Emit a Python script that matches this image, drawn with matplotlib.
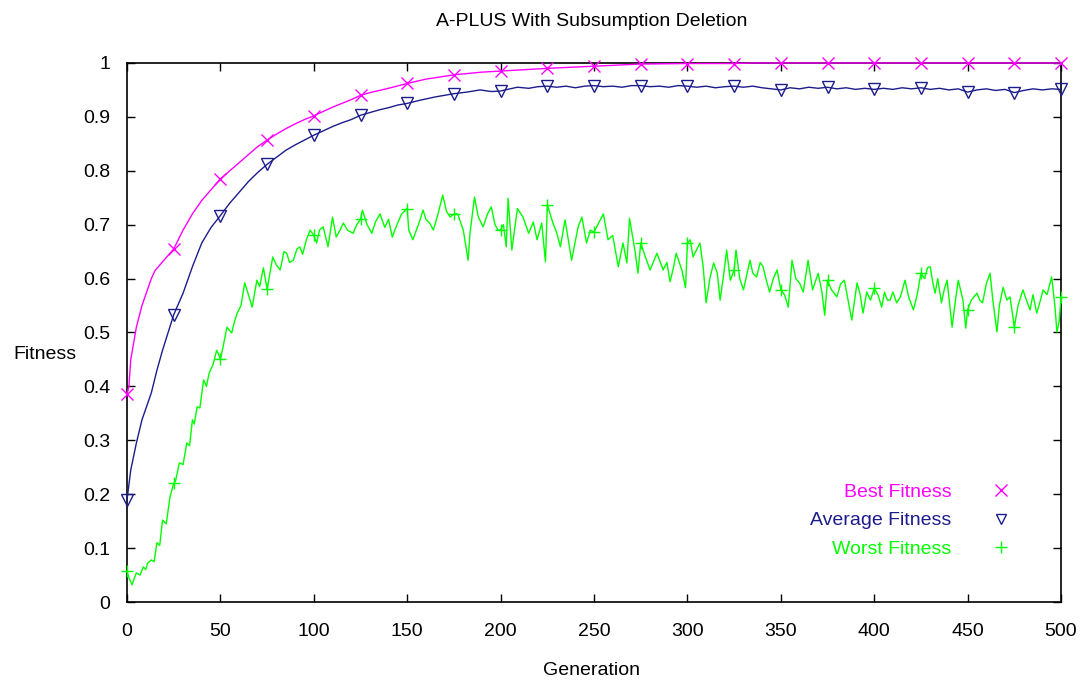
import matplotlib
matplotlib.use("Agg")
import matplotlib.pyplot as plt
from matplotlib.lines import Line2D
import numpy as np

plt.rcParams['font.family'] = ['Liberation Sans', 'DejaVu Sans']

title = "A-PLUS With Subsumption Deletion"
xlabel = "Generation"
ylabel = "Fitness"
series_names = ["Best Fitness", "Average Fitness", "Worst Fitness"]

best_gen = [0, 1, 2, 3, 5, 8, 10, 13, 15, 20, 25, 30, 35, 40, 45, 50, 55, 60, 65, 70,
            75, 80, 85, 90, 95, 100, 110, 120, 125, 130, 140, 150, 160, 175, 190, 200,
            225, 250, 275, 300, 325, 335, 350, 375, 400, 425, 450, 475, 500]
best_val = [0.385, 0.40, 0.45, 0.47, 0.51, 0.55, 0.57, 0.60, 0.615, 0.635, 0.655, 0.69,
            0.72, 0.745, 0.765, 0.785, 0.80, 0.815, 0.83, 0.845, 0.857, 0.868, 0.878,
            0.887, 0.895, 0.902, 0.918, 0.932, 0.940, 0.945, 0.953, 0.962, 0.970, 0.978,
            0.983, 0.985, 0.990, 0.994, 0.998, 0.999, 0.999, 1.0, 1.0, 1.0, 1.0, 1.0,
            1.0, 1.0, 1.0]

avg_gen = [0, 2, 5, 8, 13, 16, 19, 25, 30, 35, 40, 45, 50, 55, 60, 65, 70, 75, 80, 85,
           90, 95, 100, 105, 110, 115, 120, 125, 130, 135, 140, 145, 150, 157, 165, 170,
           175, 182, 189, 195, 200, 205, 209, 215, 220, 225, 230, 235, 240, 245, 250,
           255, 260, 265, 270, 275, 280, 285, 290, 295, 300, 305, 310, 315, 320, 325,
           330, 335, 340, 345, 350, 355, 360, 365, 370, 375, 380, 385, 390, 395, 400,
           405, 410, 415, 420, 425, 430, 435, 440, 445, 450, 455, 460, 465, 470, 475,
           480, 485, 490, 495, 500]
avg_val = [0.19, 0.245, 0.295, 0.338, 0.388, 0.43, 0.467, 0.533, 0.573, 0.622, 0.666,
           0.695, 0.717, 0.74, 0.76, 0.78, 0.797, 0.812, 0.825, 0.838, 0.848, 0.857,
           0.866, 0.874, 0.882, 0.889, 0.895, 0.903, 0.908, 0.913, 0.917, 0.922, 0.925,
           0.931, 0.937, 0.940, 0.943, 0.946, 0.950, 0.947, 0.948, 0.952, 0.955, 0.953,
           0.956, 0.957, 0.955, 0.957, 0.954, 0.957, 0.958, 0.956, 0.957, 0.955, 0.958,
           0.958, 0.956, 0.957, 0.955, 0.958, 0.957, 0.955, 0.957, 0.954, 0.956, 0.957,
           0.955, 0.957, 0.954, 0.952, 0.950, 0.954, 0.952, 0.955, 0.953, 0.955, 0.952,
           0.954, 0.951, 0.953, 0.951, 0.953, 0.951, 0.954, 0.952, 0.954, 0.951, 0.953,
           0.950, 0.952, 0.946, 0.950, 0.952, 0.949, 0.951, 0.945, 0.949, 0.952, 0.950,
           0.952, 0.951]

worst_gen = [0, 1, 2.7, 4, 5, 7, 8.7, 10, 11, 13, 14.5, 16, 17.5, 19, 21, 23, 25, 26, 28,
             30, 32, 33.5, 35, 36, 37.5, 39, 41, 42.5, 44, 46, 48, 49, 50, 51.5, 53.5, 56,
             57.5, 59, 61, 63, 65, 67, 69.5, 71, 73, 75, 76, 78, 80, 82, 84, 85.5, 87, 89,
             91, 92.5, 94, 96, 98, 100, 101.5, 103, 105, 107.6, 110, 112, 114, 115.8, 118,
             121, 123, 125, 126, 128.5, 131, 133, 135.4, 138, 140, 142, 144.5, 147, 150,
             150.8, 153, 156, 158.5, 160, 162, 164, 166.5, 169, 171, 173, 175, 177, 180,
             182.6, 183.6, 186, 188, 190.6, 193, 195, 197, 198.6, 200, 201.5, 203, 204,
             206, 209, 212, 215, 217.5, 219.5, 222, 224, 225, 228, 230, 232, 234.5, 238,
             241.5, 243.5, 246, 248, 250, 252, 255, 257.5, 260, 263, 265.5, 267.6, 269,
             272, 273.5, 275, 277.5, 280, 283.7, 287, 289, 290.7, 292.5, 294, 297, 299,
             300, 301.5, 303, 306.7, 308.5, 310, 312, 314, 316, 317.5, 319.5, 321, 323,
             325, 326, 328, 330, 332, 333.5, 335, 337, 339, 340.5, 342, 344, 346, 348,
             350, 352, 354, 356, 358, 360, 362, 364.6, 367, 370, 372, 373.5, 375, 377,
             380, 382, 384, 386, 388, 390.8, 392.5, 394, 396, 398, 400, 402, 404, 405.5,
             407, 408.5, 410, 412, 414, 416.5, 418.5, 421, 423, 425, 427, 428.5, 430,
             431.5, 432.6, 434, 436, 437.5, 439, 441.7, 443.5, 445, 447.5, 449, 450, 452,
             455, 456.5, 458, 460, 462, 463.5, 465.7, 467, 469, 471, 472.7, 475, 477,
             479.6, 481.5, 483.4, 485, 487, 489, 490.4, 492.5, 495, 496.8, 497.8, 499, 500]
worst_val = [0.057, 0.045, 0.032, 0.045, 0.054, 0.05, 0.065, 0.06, 0.072, 0.078, 0.075,
             0.11, 0.105, 0.152, 0.145, 0.195, 0.22, 0.225, 0.258, 0.255, 0.295, 0.29,
             0.338, 0.33, 0.362, 0.36, 0.412, 0.40, 0.425, 0.44, 0.467, 0.46, 0.45, 0.475,
             0.51, 0.499, 0.52, 0.536, 0.55, 0.592, 0.57, 0.547, 0.597, 0.585, 0.62, 0.58,
             0.60, 0.64, 0.625, 0.616, 0.65, 0.647, 0.63, 0.634, 0.655, 0.659, 0.645,
             0.672, 0.69, 0.68, 0.666, 0.69, 0.696, 0.659, 0.714, 0.677, 0.69, 0.703,
             0.69, 0.684, 0.70, 0.71, 0.727, 0.70, 0.684, 0.705, 0.72, 0.695, 0.71,
             0.677, 0.70, 0.72, 0.73, 0.69, 0.672, 0.70, 0.727, 0.71, 0.703, 0.69, 0.72,
             0.755, 0.725, 0.714, 0.72, 0.72, 0.69, 0.634, 0.684, 0.751, 0.715, 0.696,
             0.72, 0.733, 0.70, 0.69, 0.69, 0.70, 0.659, 0.749, 0.653, 0.73, 0.714,
             0.684, 0.705, 0.672, 0.703, 0.631, 0.737, 0.703, 0.685, 0.659, 0.709, 0.634,
             0.696, 0.714, 0.666, 0.69, 0.686, 0.70, 0.72, 0.672, 0.68, 0.622, 0.666,
             0.629, 0.712, 0.65, 0.61, 0.666, 0.64, 0.616, 0.647, 0.616, 0.63, 0.594,
             0.62, 0.647, 0.616, 0.583, 0.666, 0.672, 0.64, 0.666, 0.62, 0.555, 0.60,
             0.629, 0.61, 0.56, 0.61, 0.653, 0.597, 0.616, 0.653, 0.60, 0.579, 0.61,
             0.634, 0.61, 0.603, 0.63, 0.622, 0.60, 0.575, 0.60, 0.616, 0.579, 0.57,
             0.547, 0.634, 0.60, 0.592, 0.575, 0.634, 0.579, 0.61, 0.575, 0.532, 0.597,
             0.58, 0.566, 0.59, 0.597, 0.56, 0.523, 0.592, 0.57, 0.536, 0.575, 0.56,
             0.582, 0.57, 0.547, 0.575, 0.56, 0.56, 0.575, 0.555, 0.566, 0.597, 0.565,
             0.542, 0.57, 0.61, 0.60, 0.62, 0.622, 0.59, 0.573, 0.60, 0.555, 0.58, 0.597,
             0.51, 0.56, 0.597, 0.56, 0.508, 0.542, 0.56, 0.573, 0.56, 0.555, 0.59, 0.61,
             0.56, 0.501, 0.55, 0.584, 0.56, 0.566, 0.51, 0.55, 0.579, 0.56, 0.542, 0.57,
             0.536, 0.56, 0.579, 0.57, 0.603, 0.547, 0.501, 0.52, 0.566]

xticks = [0, 50, 100, 150, 200, 250, 300, 350, 400, 450, 500]
yticks = [0, 0.1, 0.2, 0.3, 0.4, 0.5, 0.6, 0.7, 0.8, 0.9, 1]
ytick_labels = ["0", "0.1", "0.2", "0.3", "0.4", "0.5", "0.6", "0.7", "0.8", "0.9", "1"]

colors = ["#ff00ff", "#1c1c8c", "#00ff00"]
markers = ["x", "v", "+"]

fig = plt.figure(figsize=(10.83, 6.80), dpi=100)
ax = fig.add_axes([0.1173, 0.1147, 0.8624, 0.7927])

FS = 14

def every25(g):
    return [i for i, v in enumerate(g) if float(v) % 25 == 0]

data = [(best_gen, best_val), (avg_gen, avg_val), (worst_gen, worst_val)]
zs = [5, 4, 3]
for (g, v), c, m, z in zip(data, colors, markers, zs):
    ax.plot(g, v, color=c, lw=1.0, zorder=z, clip_on=False)
    ms = 8 if m == "v" else 9
    ax.plot(g, v, linestyle="none", marker=m, markevery=every25(g), color=c,
            markerfacecolor="none", markeredgewidth=1.0, markersize=ms, zorder=z,
            clip_on=False)

ax.set_xlim(0, 500)
ax.set_ylim(0, 1)
ax.set_xticks(xticks)
ax.set_xticklabels([str(t) for t in xticks], fontsize=FS)
ax.set_yticks(yticks)
ax.set_yticklabels(ytick_labels, fontsize=FS)
ax.tick_params(direction="in", length=6, width=1, top=True, right=True,
               pad=12, colors="black")
ax.tick_params(axis="x", pad=15)
for s in ax.spines.values():
    s.set_linewidth(1.2)
    s.set_zorder(2.5)

fig.text(0.5466, 0.969, title, ha="center", va="center", fontsize=FS)
fig.text(0.5466, 0.0147, xlabel, ha="center", va="center", fontsize=FS)
fig.text(0.012, 0.478, ylabel, ha="left", va="center", fontsize=FS)

handles = [Line2D([], [], linestyle="none", marker=m, color=c, markerfacecolor="none",
                  markersize=(7 if m == "v" else 9), markeredgewidth=1.0)
           for m, c in zip(markers, colors)]
leg = ax.legend(handles, series_names, loc="lower right", bbox_to_anchor=(0.9652, 0.0497),
                markerfirst=False, frameon=False, fontsize=FS, labelcolor=colors,
                handlelength=1.0, handletextpad=2.05, labelspacing=0.55,
                borderpad=0.4, alignment="right")
for t in leg.get_texts():
    t.set_ha("right")

fig.savefig("out.png", dpi=100)
